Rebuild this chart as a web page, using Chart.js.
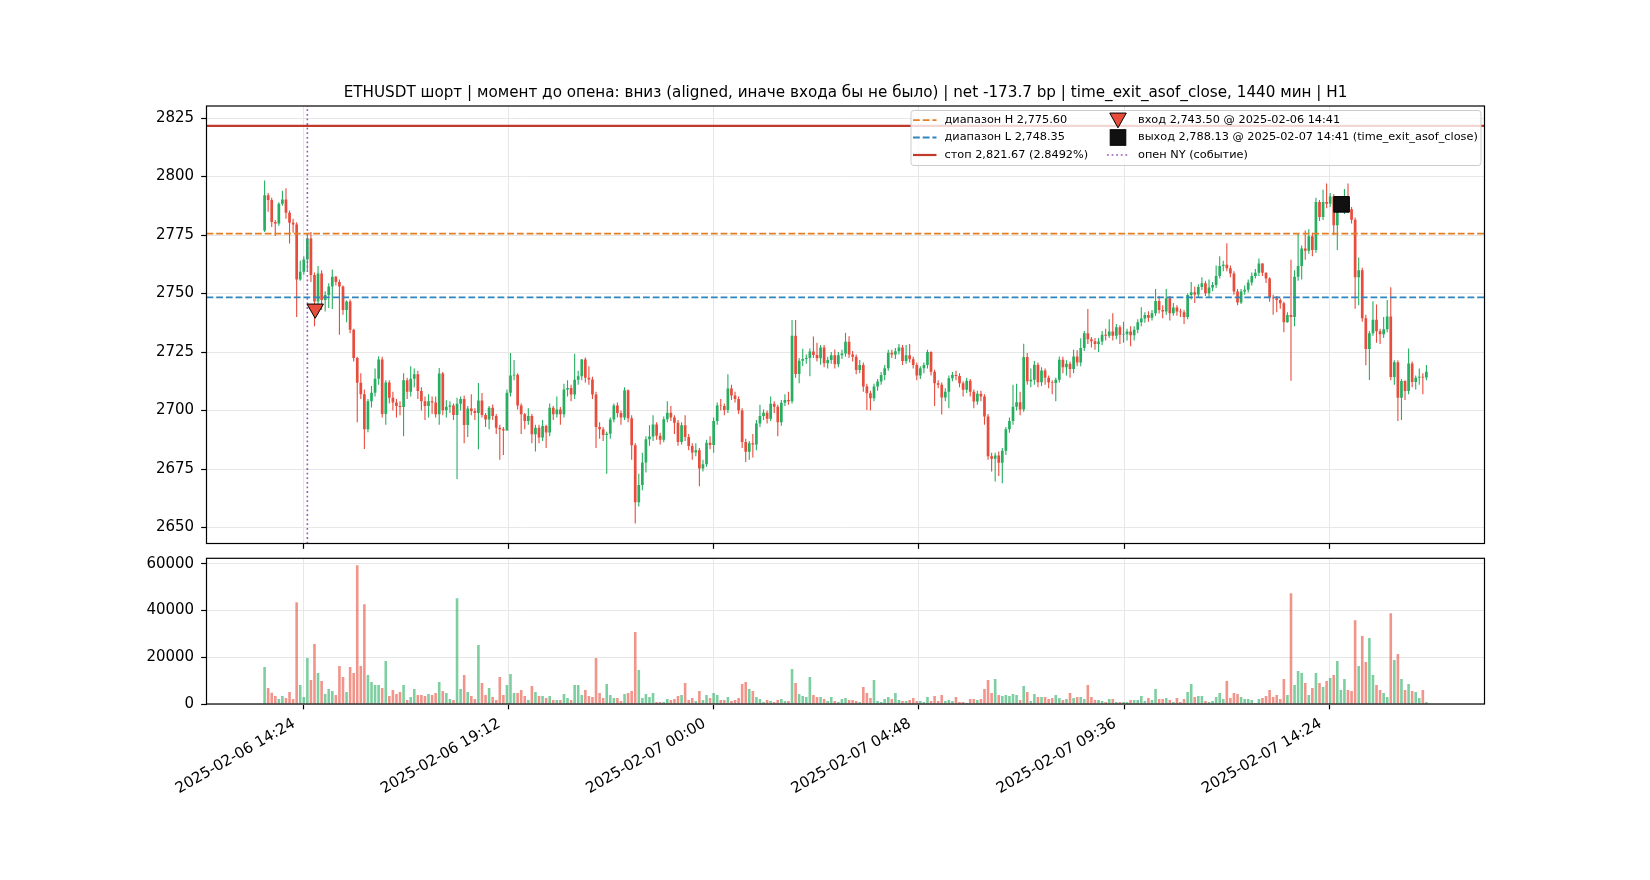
<!DOCTYPE html>
<html>
<head>
<meta charset="utf-8">
<title>ETHUSDT шорт</title>
<script src="https://cdn.jsdelivr.net/npm/chart.js@4.4.1/dist/chart.umd.min.js"></script>
<style>
    html, body { margin: 0; padding: 0; background: #fff; }
    #wrap { position: relative; width: 1650px; height: 880px; overflow: hidden; background: #fff; }
    #priceChart { position: absolute; left: 0; top: 0; }
    #volumeChart { position: absolute; left: 0; top: 540px; }
</style>
</head>
<body>
<div id="wrap">
    <canvas id="priceChart" width="1650" height="574"></canvas>
    <canvas id="volumeChart" width="1650" height="340"></canvas>
</div>
<script>
// Свечи 5 мин, время в минутах от 2025-02-06 00:00
const CANDLE_START_MIN = 810;   // 2025-02-06 13:30
const CANDLE_STEP_MIN = 5;
const FIRST_OPEN = 2777;

const CLOSES = [
    2792, 2790, 2780.6, 2780, 2788.4, 2790.2, 2784.6, 2780.3, 2779.5, 2756,
    2759.3, 2764.6, 2773.5, 2757.9, 2746.6, 2758.6, 2747.3, 2749.4, 2753, 2757.2,
    2755, 2753, 2743, 2746.6, 2734.6, 2722.5, 2711.9, 2707, 2692, 2704,
    2707.6, 2713.6, 2721.8, 2698.5, 2712, 2705.5, 2703.5, 2702, 2701.5, 2713,
    2708, 2713.6, 2715.5, 2708.4, 2704, 2702, 2704, 2703.5, 2698.4, 2715.8,
    2700.1, 2701.6, 2702.2, 2698.1, 2702.9, 2705, 2693.8, 2700.9, 2699.8, 2699,
    2704.3, 2698.1, 2696.2, 2701.2, 2697.7, 2692.7, 2692, 2691.5, 2707.6, 2715,
    2715.3, 2702.2, 2698.4, 2695.5, 2697.7, 2689.9, 2692.7, 2688.5, 2693.4, 2690.6,
    2701.2, 2698.4, 2700.5, 2698.4, 2709, 2709.7, 2706.9, 2713.2, 2714.7, 2721.8,
    2714, 2713.3, 2706.9, 2693, 2692, 2689.6, 2690.1, 2696.2, 2702.2, 2699,
    2697, 2708.7, 2696.7, 2685.2, 2660.8, 2668.2, 2677.8, 2687.7, 2688.9, 2694.1,
    2689.2, 2687.5, 2696.3, 2699.1, 2697, 2694.8, 2686.6, 2693.7, 2688.7, 2684.9,
    2682.1, 2683.1, 2675.3, 2677.1, 2686.3, 2685.3, 2695.5, 2702.2, 2702, 2700.2,
    2709.4, 2706.4, 2705, 2700, 2686.6, 2682.4, 2686, 2685.5, 2694.5, 2697.7,
    2699.1, 2696.5, 2702.9, 2701.6, 2695, 2703.3, 2704.5, 2704, 2732, 2715.6,
    2721.3, 2722, 2722.5, 2725.3, 2723.8, 2722.4, 2727, 2720.2, 2721.6, 2723.7,
    2719.8, 2723.7, 2724.4, 2729.4, 2724, 2723, 2717.4, 2719.5, 2710.3, 2707.4,
    2705.3, 2710.3, 2712.4, 2715.2, 2718.1, 2724.7, 2724, 2725.4, 2727, 2721.2,
    2723.7, 2721.9, 2719.5, 2715, 2718.1, 2719.5, 2725, 2716.6, 2711.7, 2711,
    2705.6, 2708.1, 2713.8, 2715.2, 2714.8, 2711.7, 2708.9, 2712.8, 2708.1, 2703.9,
    2707.2, 2706, 2697.5, 2680.5, 2679.4, 2680.8, 2677.7, 2682.8, 2692, 2695.5,
    2701.6, 2703.6, 2700.5, 2722.9, 2712.5, 2713.2, 2719.6, 2712.1, 2717.1, 2714,
    2712, 2711.8, 2713.2, 2721.7, 2718.5, 2720, 2717.8, 2723.1, 2720.6, 2726.7,
    2733.1, 2730.5, 2729.6, 2728.5, 2729.5, 2732.4, 2732, 2733.8, 2732, 2735.6,
    2732.4, 2732.6, 2733.8, 2732.2, 2734.5, 2737.7, 2739.4, 2740.9, 2739.7, 2741.6,
    2746.8, 2743, 2742.4, 2748, 2741.6, 2744.1, 2742.3, 2742, 2740, 2749.4,
    2750.6, 2749.6, 2752.8, 2754.4, 2750.1, 2752.6, 2753.7, 2757.5, 2761.8, 2762.3,
    2760.8, 2758.6, 2750.9, 2746.2, 2750.9, 2751.6, 2754.7, 2757.5, 2758.9, 2762.9,
    2758.9, 2756.5, 2748.3, 2748, 2747.3, 2745.9, 2737.7, 2740.9, 2740, 2757.2,
    2761.8, 2769.3, 2768.3, 2774.5, 2768.6, 2789.1, 2782.7, 2789.1, 2788.4, 2791.5,
    2779.2, 2787, 2789, 2790, 2786, 2781.6, 2757, 2760, 2739.5, 2726.3,
    2733.1, 2738.8, 2733.9, 2732.6, 2734.8, 2740.2, 2714.4, 2720.7, 2705.5, 2712.6,
    2708.4, 2720.1, 2712.2, 2714, 2714.5, 2714.1, 2716.6
];

const HIGHS = [
    2798.3, 2793, 2791, 2781.5, 2789, 2794, 2795, 2785.5, 2782, 2780.5,
    2764, 2766, 2775.6, 2776.3, 2759, 2761.8, 2760, 2751, 2754.4, 2760.3,
    2757.5, 2756, 2753.5, 2747, 2747.5, 2735, 2723, 2716, 2709, 2705,
    2710.5, 2718, 2723.2, 2723, 2713, 2713, 2708, 2705, 2704, 2716,
    2714, 2719, 2718, 2717, 2710, 2706, 2707, 2706, 2706, 2718.2,
    2716.5, 2704.4, 2704, 2703, 2705.5, 2706, 2706.5, 2702, 2707, 2701,
    2711.8, 2707.5, 2699, 2702, 2702.6, 2698.5, 2694, 2693, 2709, 2724.6,
    2721.6, 2716, 2703, 2699, 2701, 2698.5, 2694, 2694, 2696, 2694,
    2703, 2702, 2706, 2701.5, 2711.5, 2713, 2711, 2724.3, 2717, 2722,
    2722.7, 2719, 2714.5, 2708, 2695, 2693, 2691, 2697, 2703, 2703.5,
    2700, 2710, 2709, 2698, 2686, 2673, 2682, 2689, 2693.7, 2698,
    2695, 2690.5, 2697.5, 2704, 2702, 2698, 2696, 2695, 2698, 2690,
    2686, 2686, 2684, 2679, 2687.5, 2689, 2697, 2703.5, 2705, 2703,
    2715.5, 2711, 2708, 2706, 2701, 2688, 2687, 2690, 2696, 2702.5,
    2700.5, 2700, 2706, 2704, 2702.5, 2704.5, 2707, 2708, 2738.7, 2738.7,
    2722.5, 2726.4, 2724, 2726.5, 2731.7, 2729, 2728, 2728, 2723, 2725,
    2726.1, 2725, 2726, 2733.3, 2731.8, 2725.5, 2724, 2721.6, 2720.5, 2711.5,
    2708.5, 2711.5, 2713.5, 2716.5, 2719.5, 2726, 2726, 2726.7, 2728.5, 2728,
    2728, 2728.5, 2723, 2720.5, 2719, 2720.5, 2726, 2725.4, 2717.5, 2713,
    2712, 2709.5, 2715, 2716.5, 2717, 2716, 2712.5, 2714, 2713.5, 2709,
    2708.5, 2708.5, 2707, 2698.5, 2682, 2682, 2682.5, 2684, 2693, 2697,
    2711, 2711.5, 2708, 2728.6, 2724.6, 2718, 2721.2, 2720.5, 2718.5, 2718,
    2715, 2713, 2714, 2723.1, 2723, 2721.5, 2721, 2726, 2725.8, 2730.9,
    2734, 2743.4, 2731.5, 2731, 2731, 2734, 2735, 2739, 2741.6, 2737,
    2736.5, 2738, 2735, 2736, 2736, 2739, 2744.2, 2742, 2742.5, 2743,
    2752, 2749, 2745, 2752, 2749, 2746, 2745, 2743.5, 2743, 2750,
    2755, 2753, 2754, 2757, 2755.5, 2756, 2755, 2762, 2766, 2764,
    2771.5, 2762, 2759.5, 2752, 2752, 2753.5, 2756, 2759, 2760.5, 2765,
    2763, 2759, 2757, 2749.5, 2749, 2748, 2746.5, 2742, 2764.5, 2760,
    2775.9, 2770.5, 2777, 2777.5, 2776, 2791, 2790, 2794.4, 2797, 2793,
    2792.5, 2788, 2791, 2794.7, 2797, 2787, 2782.5, 2765.4, 2761, 2741,
    2734, 2746.7, 2745.3, 2735, 2740, 2747.3, 2752.7, 2721.5, 2721.5, 2713.5,
    2713, 2726.5, 2721, 2715, 2718, 2716, 2719.5
];

const LOWS = [
    2776.3, 2785, 2778.5, 2774.6, 2779, 2787.5, 2782, 2771.4, 2776, 2740,
    2755.5, 2758, 2760, 2755, 2736, 2745, 2743, 2742.4, 2743.8, 2743.4,
    2753.5, 2732.4, 2741, 2737.7, 2733, 2721, 2695, 2705, 2683.6, 2690.7,
    2701.3, 2706, 2711, 2697, 2694, 2703, 2700, 2697, 2698, 2689,
    2705, 2706, 2710, 2705, 2700, 2696, 2697, 2698.5, 2697, 2694,
    2698, 2697, 2699, 2696, 2670.8, 2700, 2686, 2688.7, 2698, 2696,
    2683.5, 2697, 2693, 2692, 2696, 2690, 2679, 2681, 2691.6, 2706,
    2713, 2700.5, 2690, 2692, 2694, 2686, 2682.5, 2686, 2687, 2684,
    2689, 2696, 2697, 2694, 2697, 2706, 2704, 2705, 2711, 2713,
    2712, 2711, 2705, 2684, 2688, 2687, 2673, 2688, 2695, 2697,
    2694, 2696, 2695, 2679, 2651.7, 2659, 2666, 2673.5, 2685, 2687,
    2687.5, 2685.5, 2686.5, 2695, 2695.5, 2690, 2685, 2685.5, 2687, 2683,
    2679, 2680.5, 2667.7, 2674, 2676, 2683.5, 2682, 2694, 2700, 2698,
    2699, 2704.5, 2703.5, 2698.5, 2684, 2678, 2679, 2680, 2683, 2693,
    2696, 2694.5, 2695.5, 2699, 2689, 2693.5, 2702, 2702.5, 2703, 2714,
    2711.7, 2719, 2720, 2714.7, 2722.5, 2721, 2719.6, 2718.5, 2718, 2720,
    2718, 2718.5, 2722, 2723, 2722.5, 2721, 2715.5, 2716, 2708, 2700.3,
    2700, 2704, 2708.5, 2711, 2713, 2717, 2722.5, 2722, 2724, 2719.5,
    2720, 2720.5, 2718, 2713, 2713.5, 2716, 2718, 2715, 2702, 2709.5,
    2698.3, 2704, 2701, 2712.5, 2713, 2710, 2706, 2707.5, 2706, 2701,
    2702.5, 2704, 2694, 2679, 2674, 2669.7, 2672, 2669, 2681, 2690.5,
    2694, 2700, 2698, 2699.5, 2711, 2710, 2711, 2710, 2710.5, 2711,
    2709.5, 2707, 2704, 2712, 2716, 2715, 2714, 2716, 2719, 2719,
    2725.5, 2728.5, 2727, 2726, 2725, 2728, 2730, 2731, 2730, 2730.5,
    2728.5, 2729, 2730, 2727.5, 2730, 2733, 2736, 2737.5, 2738, 2738.5,
    2740.5, 2741.5, 2739.5, 2741, 2738.5, 2740.5, 2740.5, 2740, 2737, 2739,
    2747.5, 2746, 2748.5, 2751.5, 2749, 2748.5, 2751, 2752.5, 2756.5, 2759.5,
    2759.5, 2757, 2749.5, 2745, 2745.5, 2749.5, 2750.5, 2753.5, 2756.5, 2757.5,
    2757.5, 2754.5, 2746.5, 2741, 2742, 2743.5, 2733.5, 2737.5, 2712.8, 2736,
    2755.5, 2756, 2764.5, 2767, 2766, 2767.5, 2781, 2781.5, 2786.5, 2787,
    2775, 2768.6, 2785, 2784, 2784.5, 2780, 2743.5, 2745, 2738, 2719.4,
    2713.1, 2732, 2729, 2728.5, 2731, 2733.5, 2713, 2711, 2695.5, 2696,
    2704.5, 2707, 2710, 2709, 2711, 2707, 2713
];

const VOLUMES = [
    15800, 6830, 4840, 3420, 2135, 3420, 2560, 5120, 2135, 43560,
    8110, 2990, 19640, 10250, 25620, 13240, 9820, 4270, 6400, 5550,
    3840, 16230, 11530, 5120, 15800, 13240, 59360, 16230, 42700, 12380,
    9400, 8110, 8110, 6830, 18360, 3420, 5980, 4270, 5120, 8110,
    1710, 2990, 6400, 3840, 3840, 3420, 4270, 3840, 4700, 9400,
    5550, 4700, 2135, 1710, 45270, 6400, 12380, 5120, 3420, 2135,
    25200, 8970, 3840, 6830, 2990, 1710, 11530, 3840, 8110, 12810,
    4700, 4700, 5980, 3420, 1710, 7690, 5120, 3420, 3420, 2560,
    3420, 1710, 1710, 1710, 4270, 2560, 1710, 8110, 8110, 3840,
    5980, 3420, 2990, 19640, 4700, 2560, 8540, 3840, 2560, 2560,
    1280, 4270, 4700, 5550, 30750, 14520, 2560, 4270, 2990, 4700,
    850, 850, 850, 2135, 1710, 2135, 3420, 3840, 8970, 1710,
    2560, 1280, 5550, 1710, 3840, 2560, 4700, 3840, 1710, 1710,
    2990, 1280, 1710, 2560, 8540, 9400, 6400, 5550, 2990, 2135,
    850, 1710, 1280, 850, 1710, 2135, 1280, 1280, 14950, 8970,
    4270, 3420, 2990, 11530, 3840, 2990, 2990, 2135, 1280, 2990,
    1280, 850, 2135, 2560, 1710, 1710, 1280, 850, 7260, 4700,
    2560, 10250, 1280, 850, 2135, 2990, 2135, 4700, 1710, 1280,
    1280, 1710, 2560, 1280, 1280, 850, 2990, 1280, 3420, 1280,
    3840, 1280, 1710, 1280, 2990, 850, 850, 430, 2135, 2135,
    1710, 2135, 6400, 10250, 4700, 10680, 3840, 3420, 3840, 3420,
    4270, 3840, 1710, 7690, 5120, 1280, 4270, 2990, 2990, 2990,
    2135, 2560, 3840, 2560, 1710, 2135, 4700, 2560, 2990, 2990,
    2135, 8110, 2990, 1710, 1710, 1280, 850, 2135, 2135, 850,
    850, 850, 850, 1710, 1710, 1710, 3420, 1280, 2560, 1710,
    6400, 2135, 2135, 2560, 1710, 850, 2560, 850, 2135, 5120,
    8540, 2990, 3420, 3420, 1280, 850, 1280, 2990, 4700, 2135,
    9820, 2560, 4700, 4270, 2990, 2135, 2135, 1710, 430, 2135,
    2560, 3420, 5980, 2990, 3840, 2135, 10680, 3840, 47400, 8110,
    14090, 13240, 8970, 3840, 6830, 13240, 8970, 7260, 9820, 11100,
    12380, 18360, 5980, 10680, 5980, 5550, 35870, 16230, 29040, 17940,
    28190, 12380, 8110, 5980, 4700, 2990, 38860, 18790, 21350, 10680,
    5980, 8540, 5550, 5120, 2560, 5980, 850
];

// Уровни и события
const RANGE_H = 2775.60;
const RANGE_L = 2748.35;
const STOP_PRICE = 2821.67;
const NY_OPEN_MIN = 870;        // 2025-02-06 14:30
const ENTRY_MIN = 881;          // 2025-02-06 14:41
const ENTRY_PRICE = 2743.50;
const EXIT_MIN = 2321;          // 2025-02-07 14:41
const EXIT_PRICE = 2788.13;

// Оси
const X_TICKS = [864, 1152, 1440, 1728, 2016, 2304];
const X_TICK_LABELS = ['2025-02-06 14:24', '2025-02-06 19:12', '2025-02-07 00:00',
                       '2025-02-07 04:48', '2025-02-07 09:36', '2025-02-07 14:24'];
const PRICE_TICKS = [2650, 2675, 2700, 2725, 2750, 2775, 2800, 2825];
const VOLUME_TICKS = [0, 20000, 40000, 60000];

const TITLE = 'ETHUSDT шорт | момент до опена: вниз (aligned, иначе входа бы не было) | net -173.7 bp | time_exit_asof_close, 1440 мин | H1';
const LEGEND_LEFT = [
    { text: 'диапазон H 2,775.60', color: '#e67e22', dash: [6.8, 2.9], width: 1.8 },
    { text: 'диапазон L 2,748.35', color: '#2e86c1', dash: [6.8, 2.9], width: 1.8 },
    { text: 'стоп 2,821.67 (2.8492%)', color: '#c0392b', dash: [], width: 2.2 }
];
const LEGEND_RIGHT = [
    { text: 'вход 2,743.50 @ 2025-02-06 14:41', marker: 'triangle' },
    { text: 'выход 2,788.13 @ 2025-02-07 14:41 (time_exit_asof_close)', marker: 'square' },
    { text: 'опен NY (событие)', color: '#9b59b6', dash: [1.8, 2.8], width: 1.6 }
];

const UP = '#27ae60';
const DOWN = '#e74c3c';
const UP_VOL = 'rgba(39, 174, 96, 0.6)';
const DOWN_VOL = 'rgba(231, 76, 60, 0.6)';
const GRID = '#e7e7e7';
const FONT = "'DejaVu Sans', sans-serif";

Chart.defaults.font.family = FONT;
Chart.defaults.font.size = 15;
Chart.defaults.color = '#000';

// Производные ряды
const times = CLOSES.map((c, i) => CANDLE_START_MIN + i * CANDLE_STEP_MIN);
const opens = CLOSES.map((c, i) => i === 0 ? FIRST_OPEN : CLOSES[i - 1]);
const isUp = CLOSES.map((c, i) => c >= opens[i]);

// Поля как у matplotlib (5%)
const xSpan = times[times.length - 1] - times[0];
const X_MIN = times[0] - 0.05 * xSpan;
const X_MAX = times[times.length - 1] + 0.05 * xSpan;
const pLo = Math.min(...LOWS);
const pHi = Math.max(...HIGHS, STOP_PRICE);
const P_MIN = pLo - 0.05 * (pHi - pLo);
const P_MAX = pHi + 0.05 * (pHi - pLo);
const V_MAX = Math.max(...VOLUMES) * 1.05;

const AXIS_LEFT = 206.5;
const AXIS_RIGHT_PAD = 165.5;

function xScale(showLabels, height) {
    return {
        type: 'linear',
        min: X_MIN,
        max: X_MAX,
        offset: false,
        border: { display: false },
        grid: { offset: false, color: GRID, lineWidth: 1, tickColor: '#000', tickLength: 5.35, tickWidth: 1.2 },
        ticks: {
            autoSkip: false,
            minRotation: showLabels ? 30 : 0,
            maxRotation: showLabels ? 30 : 0,
            padding: 5.5,
            labelOffset: showLabels ? -9 : 0,
            callback: function(value) {
                return showLabels ? X_TICK_LABELS[X_TICKS.indexOf(value)] : '';
            }
        },
        afterBuildTicks: function(scale) {
            scale.ticks = X_TICKS.map(v => ({ value: v }));
        },
        afterFit: function(scale) {
            scale.height = height;
        }
    };
}

function yScale(min, max, tickValues) {
    return {
        type: 'linear',
        min: min,
        max: max,
        border: { display: false },
        grid: { color: GRID, lineWidth: 1, tickColor: '#000', tickLength: 5.35, tickWidth: 1.2 },
        ticks: {
            padding: 7,
            callback: function(value) { return String(value); }
        },
        afterBuildTicks: function(scale) {
            scale.ticks = tickValues.map(v => ({ value: v }));
        },
        afterFit: function(scale) {
            scale.width = AXIS_LEFT;
        }
    };
}

// Рамка осей
const framePlugin = {
    id: 'frame',
    afterDatasetsDraw(chart) {
        const a = chart.chartArea;
        const ctx = chart.ctx;
        ctx.save();
        ctx.strokeStyle = '#000';
        ctx.lineWidth = 1.2;
        ctx.strokeRect(a.left, a.top, a.right - a.left, a.bottom - a.top);
        ctx.restore();
    }
};

function drawTriangleDown(ctx, x, y, r) {
    ctx.beginPath();
    ctx.moveTo(x - r * 0.87, y - r * 0.75);
    ctx.lineTo(x + r * 0.87, y - r * 0.75);
    ctx.lineTo(x, y + r * 0.8);
    ctx.closePath();
    ctx.fillStyle = DOWN;
    ctx.fill();
    ctx.strokeStyle = '#000';
    ctx.lineWidth = 1;
    ctx.stroke();
}

// Заголовок и легенда
const titleLegendPlugin = {
    id: 'titleLegend',
    afterDraw(chart) {
        const a = chart.chartArea;
        const ctx = chart.ctx;
        ctx.save();
        ctx.fillStyle = '#000';
        ctx.font = '15.2px ' + FONT;
        ctx.textAlign = 'center';
        ctx.textBaseline = 'alphabetic';
        ctx.fillText(TITLE, (a.left + a.right) / 2, 97);

        const w = 570, h = 55;
        const bx = a.right - 3.5 - w;
        const by = a.top + 4.5;
        ctx.beginPath();
        if (ctx.roundRect) ctx.roundRect(bx, by, w, h, 3); else ctx.rect(bx, by, w, h);
        ctx.fillStyle = 'rgba(255, 255, 255, 0.8)';
        ctx.fill();
        ctx.strokeStyle = '#cccccc';
        ctx.lineWidth = 1;
        ctx.stroke();

        const rows = [by + 9.7, by + 27, by + 44.5];
        ctx.font = '11.3px ' + FONT;
        ctx.textAlign = 'left';
        ctx.textBaseline = 'middle';

        LEGEND_LEFT.forEach((item, k) => {
            const y = rows[k];
            ctx.beginPath();
            ctx.setLineDash(item.dash);
            ctx.strokeStyle = item.color;
            ctx.lineWidth = item.width;
            ctx.moveTo(bx + 2, y);
            ctx.lineTo(bx + 25.5, y);
            ctx.stroke();
            ctx.setLineDash([]);
            ctx.fillStyle = '#000';
            ctx.fillText(item.text, bx + 33.5, y);
        });

        LEGEND_RIGHT.forEach((item, k) => {
            const y = rows[k];
            const mx = bx + 207;
            if (item.marker === 'triangle') {
                drawTriangleDown(ctx, mx, y, 9.5);
            } else if (item.marker === 'square') {
                ctx.fillStyle = '#111';
                ctx.fillRect(mx - 7.8, y - 7.8, 15.6, 15.6);
                ctx.strokeStyle = '#000';
                ctx.lineWidth = 1;
                ctx.strokeRect(mx - 7.8, y - 7.8, 15.6, 15.6);
            } else {
                ctx.beginPath();
                ctx.setLineDash(item.dash);
                ctx.strokeStyle = item.color;
                ctx.lineWidth = item.width;
                ctx.moveTo(mx - 11, y);
                ctx.lineTo(mx + 11, y);
                ctx.stroke();
                ctx.setLineDash([]);
            }
            ctx.fillStyle = '#000';
            ctx.fillText(item.text, bx + 227, y);
        });
        ctx.restore();
    }
};

function hLine(value) {
    return [{ x: X_MIN, y: value }, { x: X_MAX, y: value }];
}

const wickData = times.map((t, i) => ({
    x: t,
    y: [Math.min(LOWS[i], opens[i], CLOSES[i]), Math.max(HIGHS[i], opens[i], CLOSES[i])]
}));
const bodyData = times.map((t, i) => ({ x: t, y: [opens[i], CLOSES[i]] }));
const volumeData = times.map((t, i) => ({ x: t, y: VOLUMES[i] }));

new Chart(document.getElementById('priceChart'), {
    type: 'bar',
    data: {
        datasets: [
            {
                type: 'scatter',
                label: 'вход',
                data: [{ x: ENTRY_MIN, y: ENTRY_PRICE }],
                pointStyle: 'triangle',
                rotation: 180,
                radius: 9.5,
                backgroundColor: DOWN,
                borderColor: '#000',
                borderWidth: 1,
                order: 0
            },
            {
                type: 'scatter',
                label: 'выход',
                data: [{ x: EXIT_MIN, y: EXIT_PRICE }],
                pointStyle: 'rect',
                radius: 11,
                backgroundColor: '#111',
                borderColor: '#000',
                borderWidth: 1,
                order: 0
            },
            {
                type: 'line',
                label: 'диапазон H',
                data: hLine(RANGE_H),
                borderColor: '#e67e22',
                borderWidth: 1.8,
                borderDash: [6.8, 2.9],
                pointRadius: 0,
                order: 1
            },
            {
                type: 'line',
                label: 'диапазон L',
                data: hLine(RANGE_L),
                borderColor: '#2e86c1',
                borderWidth: 1.8,
                borderDash: [6.8, 2.9],
                pointRadius: 0,
                order: 1
            },
            {
                type: 'line',
                label: 'стоп',
                data: hLine(STOP_PRICE),
                borderColor: '#c0392b',
                borderWidth: 2.2,
                pointRadius: 0,
                order: 1
            },
            {
                type: 'line',
                label: 'опен NY',
                data: [{ x: NY_OPEN_MIN, y: P_MIN }, { x: NY_OPEN_MIN, y: P_MAX }],
                borderColor: '#9b59b6',
                borderWidth: 1.6,
                borderDash: [1.8, 2.8],
                pointRadius: 0,
                order: 1
            },
            {
                label: 'тела',
                data: bodyData,
                barThickness: 2.7,
                grouped: false,
                inflateAmount: 0,
                backgroundColor: ctx => isUp[ctx.dataIndex] ? UP : DOWN,
                order: 2
            },
            {
                label: 'тени',
                data: wickData,
                barThickness: 1.1,
                grouped: false,
                inflateAmount: 0,
                backgroundColor: ctx => isUp[ctx.dataIndex] ? UP : DOWN,
                order: 3
            }
        ]
    },
    options: {
        responsive: false,
        animation: false,
        devicePixelRatio: 1,
        layout: { padding: { left: 0, top: 106, right: AXIS_RIGHT_PAD, bottom: 0 } },
        plugins: {
            legend: { display: false },
            tooltip: { enabled: false },
            title: { display: false }
        },
        scales: {
            x: xScale(false, 30.5),
            y: yScale(P_MIN, P_MAX, PRICE_TICKS)
        }
    },
    plugins: [framePlugin, titleLegendPlugin]
});

new Chart(document.getElementById('volumeChart'), {
    type: 'bar',
    data: {
        datasets: [{
            label: 'объём',
            data: volumeData,
            barThickness: 2.6,
            grouped: false,
            inflateAmount: 0,
            backgroundColor: ctx => isUp[ctx.dataIndex] ? UP_VOL : DOWN_VOL
        }]
    },
    options: {
        responsive: false,
        animation: false,
        devicePixelRatio: 1,
        layout: { padding: { left: 0, top: 18.3, right: AXIS_RIGHT_PAD, bottom: 0 } },
        plugins: {
            legend: { display: false },
            tooltip: { enabled: false }
        },
        scales: {
            x: xScale(true, 176),
            y: yScale(0, V_MAX, VOLUME_TICKS)
        }
    },
    plugins: [framePlugin]
});
</script>
</body>
</html>
